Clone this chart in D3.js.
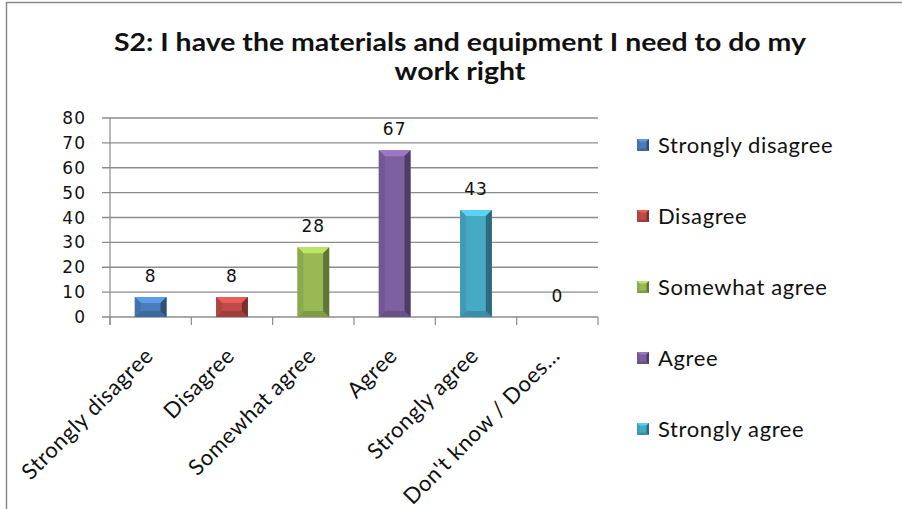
<!DOCTYPE html>
<html><head><meta charset="utf-8">
<script src="https://cdn.jsdelivr.net/npm/d3@7"></script>
<style>
html,body{margin:0;padding:0;background:#fff;}
svg{display:block;}
</style></head>
<body>
<svg id="chart" width="902" height="509"></svg>
<script>
const titleLines = ["S2: I have the materials and equipment I need to do my", "work right"];
const categories = ["Strongly disagree", "Disagree", "Somewhat agree", "Agree", "Strongly agree", "Don't know / Does\u2026"];
const values = [8, 8, 28, 67, 43, 0];
const colors = ["#4a7ebb", "#be4b48", "#98b954", "#7d60a0", "#46aac5", "#f79646"];
const legendItems = ["Strongly disagree", "Disagree", "Somewhat agree", "Agree", "Strongly agree"];
const yTicks = [0, 10, 20, 30, 40, 50, 60, 70, 80];

const svg = d3.select("#chart");
const W = 902, H = 509;
const plot = {left: 110, right: 598, top: 118, bottom: 317};
const bodyFont = "Lato, 'Open Sans', sans-serif";
const numFont = "'DejaVu Sans', Verdana, sans-serif";

// frame
svg.append("path").attr("d", `M6.5,${H} V2.5 H${W}`).attr("fill", "none").attr("stroke", "#8a8a8a").attr("stroke-width", 1.5);

// title (compressed to mimic a narrow face)
const title = svg.append("g").attr("font-family", bodyFont).attr("font-weight", "bold").attr("font-size", 25).attr("fill", "#111");
const t1 = title.append("text").attr("x", 460).attr("y", 51).attr("text-anchor", "middle").text(titleLines[0]);
const natural = t1.node().getComputedTextLength();
const squeeze = 692 / natural;
t1.attr("textLength", 692).attr("lengthAdjust", "spacingAndGlyphs");
const t2 = title.append("text").attr("x", 460).attr("y", 80).attr("text-anchor", "middle").text(titleLines[1]);
const n2 = t2.node().getComputedTextLength();
t2.attr("textLength", n2 * squeeze).attr("lengthAdjust", "spacingAndGlyphs");

const x = d3.scaleBand().domain(categories).range([plot.left, plot.right]).padding(0);
const y = d3.scaleLinear().domain([0, 80]).range([plot.bottom, plot.top]);

// gridlines + y ticks
svg.append("g").selectAll("line").data(yTicks).join("line")
  .attr("x1", plot.left - 8).attr("x2", plot.right)
  .attr("y1", d => y(d)).attr("y2", d => y(d))
  .attr("stroke", "#8c8c8c").attr("stroke-width", 1.4);

// y axis line
svg.append("line").attr("x1", plot.left).attr("x2", plot.left).attr("y1", plot.top).attr("y2", plot.bottom + 8)
  .attr("stroke", "#8c8c8c").attr("stroke-width", 1.2);

// x tick marks at category boundaries
const bounds = categories.map(c => x(c)).concat([x(categories[categories.length - 1]) + x.bandwidth()]);
svg.append("g").selectAll("line").data(bounds).join("line")
  .attr("x1", d => d).attr("x2", d => d).attr("y1", plot.bottom).attr("y2", plot.bottom + 8)
  .attr("stroke", "#8c8c8c").attr("stroke-width", 1.2);

// y tick labels
svg.append("g").selectAll("text").data(yTicks).join("text")
  .attr("x", plot.left - 24).attr("y", d => y(d)).attr("dy", "0.36em")
  .attr("text-anchor", "end").attr("font-family", numFont).attr("font-size", 17)
  .attr("letter-spacing", 1).attr("fill", "#111").text(d => d);

// bevelled bar
function bevelRect(g, x0, y0, w, h, base, b) {
  const x1 = x0 + w, y1 = y0 + h;
  b = Math.min(b, h / 2, w / 2);
  const c = d3.color(base);
  g.append("rect").attr("x", x0).attr("y", y0).attr("width", w).attr("height", h).attr("fill", c.formatHex());
  const poly = (pts, fill) => g.append("polygon").attr("points", pts.map(p => p.join(",")).join(" ")).attr("fill", fill);
  poly([[x0, y0], [x1, y0], [x1 - b, y0 + b], [x0 + b, y0 + b]], c.brighter(0.6).formatHex());
  poly([[x0, y1], [x1, y1], [x1 - b, y1 - b], [x0 + b, y1 - b]], c.darker(0.5).formatHex());
  poly([[x0, y0], [x0 + b, y0 + b], [x0 + b, y1 - b], [x0, y1]], c.darker(0.25).formatHex());
  poly([[x1, y0], [x1 - b, y0 + b], [x1 - b, y1 - b], [x1, y1]], c.darker(1.3).formatHex());
}

const barW = x.bandwidth() * 0.39;
const bars = svg.append("g");
categories.forEach((c, i) => {
  const v = values[i];
  const cx = x(c) + x.bandwidth() / 2;
  if (v > 0) {
    bevelRect(bars, cx - barW / 2, y(v), barW, y(0) - y(v), colors[i], 6);
  }
  bars.append("text").attr("x", cx).attr("y", y(v) - 15)
    .attr("text-anchor", "middle").attr("font-family", numFont).attr("font-size", 17)
    .attr("letter-spacing", 1).attr("fill", "#111").text(v);
});

// category labels
svg.append("g").selectAll("text").data(categories).join("text")
  .attr("transform", d => `translate(${x(d) + x.bandwidth() / 2 + 4},${plot.bottom + 40}) rotate(-45)`)
  .attr("text-anchor", "end").attr("font-family", bodyFont).attr("font-size", 22).attr("letter-spacing", 0.6)
  .attr("fill", "#111").text(d => d);

// legend
const legend = svg.append("g");
legendItems.forEach((name, i) => {
  const cy = 145 + i * 71;
  bevelRect(legend, 637, cy - 6, 12, 12, colors[i], 2.5);
  legend.append("text").attr("x", 658).attr("y", cy).attr("dy", "0.35em")
    .attr("font-family", bodyFont).attr("font-size", 22).attr("letter-spacing", 0.6).attr("fill", "#111").text(name);
});
</script>
</body></html>
